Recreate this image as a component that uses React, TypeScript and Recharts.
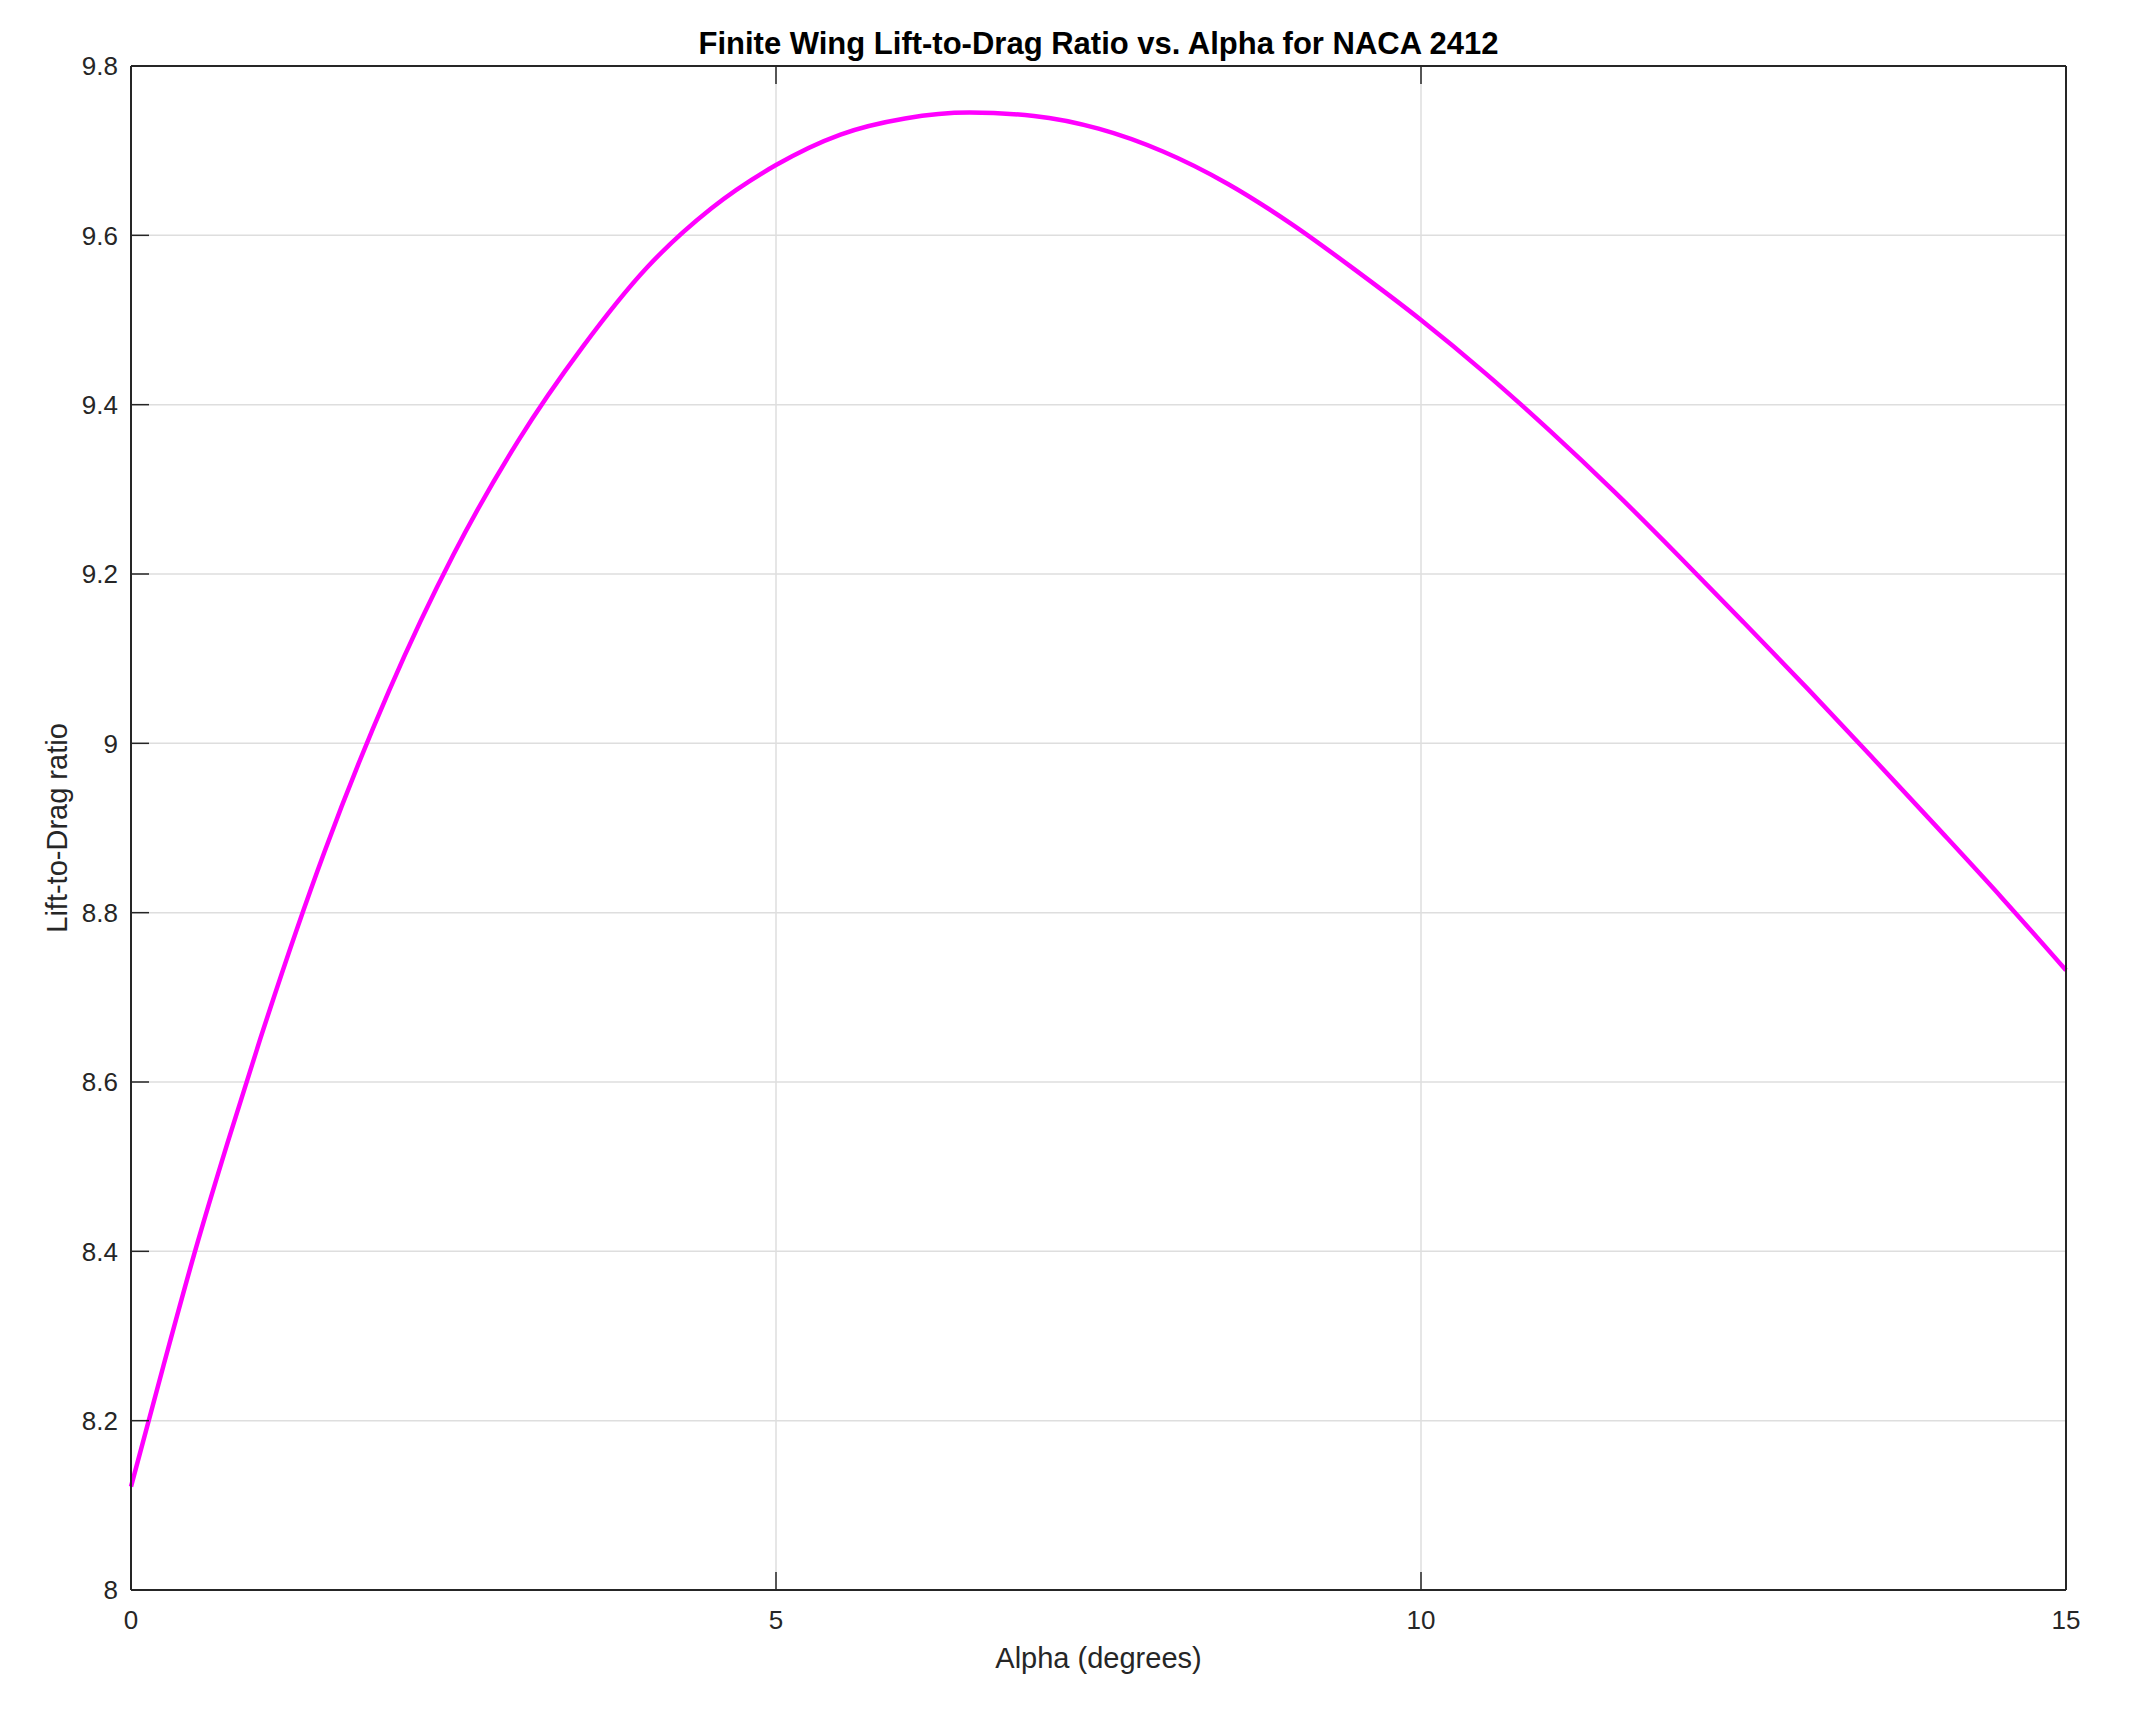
import React from 'react';
import { LineChart, Line, XAxis, YAxis, CartesianGrid } from 'recharts';

const alphaDeg = [0, 0.25, 0.5, 0.75, 1, 1.5, 2, 2.5, 3, 3.5, 4, 4.5, 5, 5.5, 6, 6.5, 7, 7.5, 8, 8.5, 9, 9.5, 10, 10.5, 11, 11.5, 12, 12.5, 13, 13.5, 14, 14.5, 15];
const liftToDrag = [8.122, 8.264, 8.402, 8.529, 8.65, 8.872, 9.062, 9.223, 9.357, 9.468, 9.562, 9.632, 9.683, 9.719, 9.738, 9.745, 9.741, 9.726, 9.699, 9.661, 9.613, 9.558, 9.5, 9.437, 9.369, 9.297, 9.221, 9.143, 9.064, 8.983, 8.901, 8.818, 8.732];
const xTicks = [0, 5, 10, 15];
const yTicks = [8, 8.2, 8.4, 8.6, 8.8, 9, 9.2, 9.4, 9.6, 9.8];

const data = alphaDeg.map((a, i) => ({ alpha: a, ld: liftToDrag[i] }));

const W = 2136;
const H = 1709;
const PL = 131;
const PR = 2066;
const PT = 66;
const PB = 1590;
const TICK = 18;
const FONT = 'Liberation Sans, Arial, Helvetica, sans-serif';
const AX = '#262626';

const fmt = (v: number) => String(Number(v.toFixed(1)));

const BottomTick = (p: any) => (
  <g>
    <line x1={p.x} y1={p.y} x2={p.x} y2={p.y - TICK} stroke={AX} strokeWidth={1.5} />
    <text x={p.x} y={p.y + 39} textAnchor="middle" fontSize={26} fontFamily={FONT} fill={AX}>
      {fmt(p.payload.value)}
    </text>
  </g>
);
const TopTick = (p: any) => (
  <line x1={p.x} y1={p.y} x2={p.x} y2={p.y + TICK} stroke={AX} strokeWidth={1.5} />
);
const LeftTick = (p: any) => (
  <g>
    <line x1={p.x} y1={p.y} x2={p.x + TICK} y2={p.y} stroke={AX} strokeWidth={1.5} />
    <text x={p.x - 13} y={p.y} dy="0.36em" textAnchor="end" fontSize={26} fontFamily={FONT} fill={AX}>
      {fmt(p.payload.value)}
    </text>
  </g>
);
const RightTick = (p: any) => (
  <line x1={p.x} y1={p.y} x2={p.x - TICK} y2={p.y} stroke={AX} strokeWidth={1.5} />
);

const xLabel = () => (
  <text x={(PL + PR) / 2} y={1668} textAnchor="middle" fontSize={29} fontFamily={FONT} fill={AX}>
    Alpha (degrees)
  </text>
);
const yLabel = () => (
  <text
    x={67}
    y={(PT + PB) / 2}
    transform={`rotate(-90 67 ${(PT + PB) / 2})`}
    textAnchor="middle"
    fontSize={29}
    fontFamily={FONT}
    fill={AX}
  >
    Lift-to-Drag ratio
  </text>
);
const titleLabel = () => (
  <text x={(PL + PR) / 2} y={54} textAnchor="middle" fontSize={31} fontWeight="bold" fontFamily={FONT} fill="#000">
    Finite Wing Lift-to-Drag Ratio vs. Alpha for NACA 2412
  </text>
);

export default function App() {
  return (
    <div style={{ position: 'absolute', left: 0, top: 0, width: W, height: H, background: '#fff' }}>
      <LineChart width={W} height={H} data={data} margin={{ top: PT - 10, right: W - PR - 10, bottom: 0, left: 0 }}>
        <CartesianGrid stroke="#dedede" strokeWidth={1.5} />
        <XAxis
          dataKey="alpha"
          type="number"
          domain={[0, 15]}
          ticks={xTicks}
          height={H - PB}
          tickSize={0}
          tickMargin={0}
          tickLine={false}
          tick={BottomTick}
          axisLine={{ stroke: AX, strokeWidth: 2 }}
          label={xLabel}
          interval={0}
        />
        <XAxis
          xAxisId="top"
          orientation="top"
          dataKey="alpha"
          type="number"
          domain={[0, 15]}
          ticks={xTicks}
          height={10}
          tickSize={0}
          tickMargin={0}
          tickLine={false}
          tick={TopTick}
          axisLine={{ stroke: AX, strokeWidth: 2 }}
          label={titleLabel}
          interval={0}
        />
        <YAxis
          type="number"
          domain={[8, 9.8]}
          ticks={yTicks}
          width={PL}
          tickSize={0}
          tickMargin={0}
          tickLine={false}
          tick={LeftTick}
          axisLine={{ stroke: AX, strokeWidth: 2 }}
          label={yLabel}
          interval={0}
          allowDataOverflow
        />
        <YAxis
          yAxisId="right"
          orientation="right"
          type="number"
          domain={[8, 9.8]}
          ticks={yTicks}
          width={10}
          tickSize={0}
          tickMargin={0}
          tickLine={false}
          tick={RightTick}
          axisLine={{ stroke: AX, strokeWidth: 2 }}
          interval={0}
        />
        <Line
          type="monotone"
          dataKey="ld"
          stroke="#FF00FF"
          strokeWidth={4.5}
          dot={false}
          isAnimationActive={false}
        />
      </LineChart>
    </div>
  );
}
